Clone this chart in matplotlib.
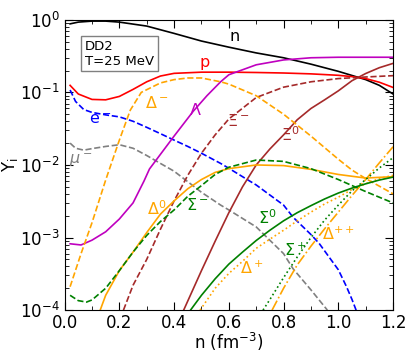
import numpy as np
import matplotlib
matplotlib.use('Agg')
import matplotlib.pyplot as plt
from matplotlib.ticker import MultipleLocator, LogLocator, NullFormatter

# densities (fm^-3) and particle fractions Y_i
n_neu = [0.02, 0.05, 0.1, 0.15, 0.2, 0.3, 0.4, 0.5, 0.6, 0.7, 0.8, 0.9, 1.0, 1.1, 1.15, 1.2]
Y_neu = [0.88, 0.93, 0.96, 0.96, 0.93, 0.82, 0.65, 0.51, 0.42, 0.35, 0.30, 0.245, 0.195, 0.15, 0.125, 0.095]

n_p = [0.02, 0.05, 0.1, 0.15, 0.2, 0.25, 0.3, 0.35, 0.4, 0.5, 0.6, 0.7, 0.8, 0.9, 1.0, 1.05, 1.1, 1.15, 1.2]
Y_p = [0.125, 0.095, 0.08, 0.079, 0.088, 0.11, 0.14, 0.168, 0.183, 0.19, 0.19, 0.188, 0.185, 0.18, 0.172, 0.165, 0.155, 0.138, 0.117]

n_e = [0.02, 0.04, 0.07, 0.1, 0.15, 0.2, 0.25, 0.3, 0.35, 0.4, 0.45, 0.5, 0.57, 0.6, 0.67, 0.7, 0.8, 0.835, 0.9, 0.93, 1.0, 1.03, 1.05, 1.065]
Y_e = [0.108, 0.075, 0.058, 0.053, 0.049, 0.046, 0.04, 0.033, 0.027, 0.022, 0.018, 0.0145, 0.0105, 0.009, 0.0062, 0.0053, 0.0028, 0.0019, 0.0011, 0.00083, 0.00036, 0.00021, 0.00014, 0.0001]

n_mu = [0.02, 0.04, 0.07, 0.1, 0.15, 0.2, 0.25, 0.3, 0.35, 0.4, 0.46, 0.5, 0.57, 0.6, 0.7, 0.8, 0.835, 0.9, 0.96]
Y_mu = [0.02, 0.017, 0.016, 0.0168, 0.018, 0.019, 0.017, 0.0135, 0.0105, 0.0082, 0.0055, 0.0042, 0.0028, 0.0024, 0.0014, 0.0006, 0.00037, 0.00019, 0.0001]

n_lam = [0.02, 0.06, 0.1, 0.15, 0.2, 0.25, 0.29, 0.31, 0.35, 0.4, 0.47, 0.52, 0.57, 0.6, 0.7, 0.8, 0.9, 1.0, 1.1, 1.2]
Y_lam = [8.2e-4, 7.9e-4, 9.2e-4, 0.0012, 0.0018, 0.003, 0.006, 0.0088, 0.014, 0.025, 0.055, 0.09, 0.14, 0.175, 0.24, 0.28, 0.30, 0.305, 0.305, 0.305]

n_xim = [0.215, 0.25, 0.3, 0.35, 0.4, 0.45, 0.5, 0.55, 0.6, 0.7, 0.8, 0.9, 1.0, 1.1, 1.2]
Y_xim = [1e-4, 2.2e-4, 5e-4, 0.0013, 0.0032, 0.0072, 0.0145, 0.026, 0.043, 0.085, 0.118, 0.14, 0.155, 0.163, 0.17]

n_xi0 = [0.435, 0.5, 0.55, 0.6, 0.65, 0.7, 0.75, 0.8, 0.85, 0.9, 0.95, 1.0, 1.05, 1.1, 1.15, 1.2]
Y_xi0 = [1e-4, 3.5e-4, 8.9e-4, 0.0022, 0.005, 0.01, 0.0166, 0.026, 0.042, 0.06, 0.079, 0.105, 0.145, 0.182, 0.219, 0.251]

n_dm = [0.02, 0.06, 0.1, 0.15, 0.2, 0.24, 0.28, 0.35, 0.4, 0.45, 0.5, 0.57, 0.6, 0.7, 0.8, 0.9, 1.0, 1.05, 1.1, 1.2]
Y_dm = [2.1e-4, 6e-4, 0.0016, 0.0062, 0.022, 0.057, 0.1, 0.135, 0.15, 0.158, 0.158, 0.14, 0.13, 0.09, 0.05, 0.025, 0.012, 0.0085, 0.0065, 0.004]

n_d0 = [0.13, 0.15, 0.2, 0.25, 0.3, 0.35, 0.4, 0.45, 0.5, 0.55, 0.6, 0.7, 0.8, 0.9, 1.0, 1.1, 1.2]
Y_d0 = [1e-4, 1.6e-4, 3.5e-4, 6.3e-4, 1.17e-3, 2.1e-3, 3.2e-3, 4.7e-3, 6.3e-3, 7.9e-3, 8.9e-3, 0.01, 0.0098, 0.0087, 0.0074, 0.0066, 0.0069]

n_sm = [0.02, 0.05, 0.08, 0.1, 0.15, 0.2, 0.25, 0.3, 0.35, 0.4, 0.45, 0.5, 0.55, 0.6, 0.7, 0.8, 0.9, 1.0, 1.1, 1.2]
Y_sm = [1.6e-4, 1.35e-4, 1.29e-4, 1.38e-4, 2e-4, 3.5e-4, 6.3e-4, 1.07e-3, 1.66e-3, 2.4e-3, 3.7e-3, 5.2e-3, 7.4e-3, 9.3e-3, 0.0117, 0.0112, 0.0089, 0.0063, 0.0043, 0.003]

n_s0 = [0.46, 0.5, 0.55, 0.6, 0.65, 0.7, 0.75, 0.8, 0.85, 0.9, 0.95, 1.0, 1.05, 1.1, 1.15, 1.2]
Y_s0 = [1e-4, 1.6e-4, 2.7e-4, 4.3e-4, 6.3e-4, 9.1e-4, 1.26e-3, 1.7e-3, 2.2e-3, 2.75e-3, 3.4e-3, 4.1e-3, 4.8e-3, 5.5e-3, 6.2e-3, 6.8e-3]

n_dp = [0.495, 0.55, 0.6, 0.65, 0.7, 0.75, 0.8, 0.85, 0.9, 0.95, 1.0, 1.05, 1.1, 1.15, 1.2]
Y_dp = [1e-4, 2e-4, 3.2e-4, 4.7e-4, 7.1e-4, 9.5e-4, 1.26e-3, 1.7e-3, 2.24e-3, 2.9e-3, 3.6e-3, 4.6e-3, 5.5e-3, 6.5e-3, 7.2e-3]

n_sp = [0.725, 0.75, 0.8, 0.85, 0.9, 0.95, 1.0, 1.05, 1.1, 1.15, 1.2]
Y_sp = [1e-4, 1.4e-4, 2.8e-4, 5.4e-4, 1e-3, 1.74e-3, 2.8e-3, 4.4e-3, 6.3e-3, 9.1e-3, 0.0126]

n_dpp = [0.758, 0.8, 0.85, 0.9, 0.95, 1.0, 1.05, 1.1, 1.15, 1.2]
Y_dpp = [1e-4, 2e-4, 4.2e-4, 7.6e-4, 1.32e-3, 2.24e-3, 3.8e-3, 6.3e-3, 0.0107, 0.0178]

orange = '#FFA500'
brown = '#A52A2A'
green = '#008000'

fig = plt.figure(figsize=(4.09, 3.54), dpi=100)
ax = fig.add_axes([0.158, 0.124, 0.803, 0.82])
lw = 1.2

ax.plot(n_neu, Y_neu, color='black', lw=lw)
ax.plot(n_p, Y_p, color='red', lw=lw)
ax.plot(n_e, Y_e, color='blue', lw=lw, ls='--')
ax.plot(n_mu, Y_mu, color='gray', lw=lw, ls='--')
ax.plot(n_lam, Y_lam, color='m', lw=lw)
ax.plot(n_xim, Y_xim, color=brown, lw=lw, ls='--')
ax.plot(n_xi0, Y_xi0, color=brown, lw=lw)
ax.plot(n_dm, Y_dm, color=orange, lw=lw, ls='--')
ax.plot(n_d0, Y_d0, color=orange, lw=lw)
ax.plot(n_dp, Y_dp, color=orange, lw=lw, ls=':')
ax.plot(n_dpp, Y_dpp, color=orange, lw=lw, ls='-.')
ax.plot(n_sm, Y_sm, color=green, lw=lw, ls='--')
ax.plot(n_s0, Y_s0, color=green, lw=lw)
ax.plot(n_sp, Y_sp, color=green, lw=lw, ls=':')

ax.set_yscale('log')
ax.set_xlim(0, 1.2)
ax.set_ylim(1e-4, 1)

fs = 11.5
ax.text(0.62, 0.58, 'n', color='black', fontsize=fs, ha='center', va='center')
ax.text(0.513, 0.26, 'p', color='red', fontsize=fs, ha='center', va='center')
ax.text(0.337, 0.071, r'$\Delta^-$', color=orange, fontsize=fs, ha='center', va='center')
ax.text(0.477, 0.057, r'$\Lambda$', color='m', fontsize=fs, ha='center', va='center')
ax.text(0.13, 0.042, r'e$^-$', color='blue', fontsize=fs, ha='center', va='center')
ax.text(0.06, 0.0117, r'$\mu^-$', color='gray', fontsize=fs, ha='center', va='center')
ax.text(0.634, 0.04, r'$\Xi^-$', color=brown, fontsize=fs, ha='center', va='center')
ax.text(0.823, 0.026, r'$\Xi^0$', color=brown, fontsize=fs, ha='center', va='center')
ax.text(0.337, 0.0025, r'$\Delta^0$', color=orange, fontsize=fs, ha='center', va='center')
ax.text(0.483, 0.0028, r'$\Sigma^-$', color=green, fontsize=fs, ha='center', va='center')
ax.text(0.74, 0.0019, r'$\Sigma^0$', color=green, fontsize=fs, ha='center', va='center')
ax.text(0.842, 6.7e-4, r'$\Sigma^+$', color=green, fontsize=fs, ha='center', va='center')
ax.text(1.0, 1.1e-3, r'$\Delta^{++}$', color=orange, fontsize=fs, ha='center', va='center')
ax.text(0.685, 3.8e-4, r'$\Delta^+$', color=orange, fontsize=fs, ha='center', va='center')

ax.text(0.062, 0.93, 'DD2\nT=25 MeV', transform=ax.transAxes, fontsize=9.5,
        va='top', ha='left', linespacing=1.15,
        bbox=dict(boxstyle='square,pad=0.28', fc='white', ec='gray', lw=1))

ax.xaxis.set_major_locator(MultipleLocator(0.2))
ax.xaxis.set_minor_locator(MultipleLocator(0.1))
ax.yaxis.set_major_locator(LogLocator(base=10, numticks=10))
ax.yaxis.set_minor_locator(LogLocator(base=10, subs=np.arange(2, 10), numticks=20))
ax.yaxis.set_minor_formatter(NullFormatter())
ax.tick_params(which='both', direction='in', top=True, right=True, labelsize=12)
ax.tick_params(which='major', length=6)
ax.tick_params(which='minor', length=3)
ax.tick_params(axis='x', pad=3)

ax.set_xlabel(r'n (fm$^{-3}$)', fontsize=12, labelpad=-1)
ax.set_ylabel(r'Y$_{\rm i}$', fontsize=12, labelpad=0)

fig.savefig('out.png', dpi=100)
